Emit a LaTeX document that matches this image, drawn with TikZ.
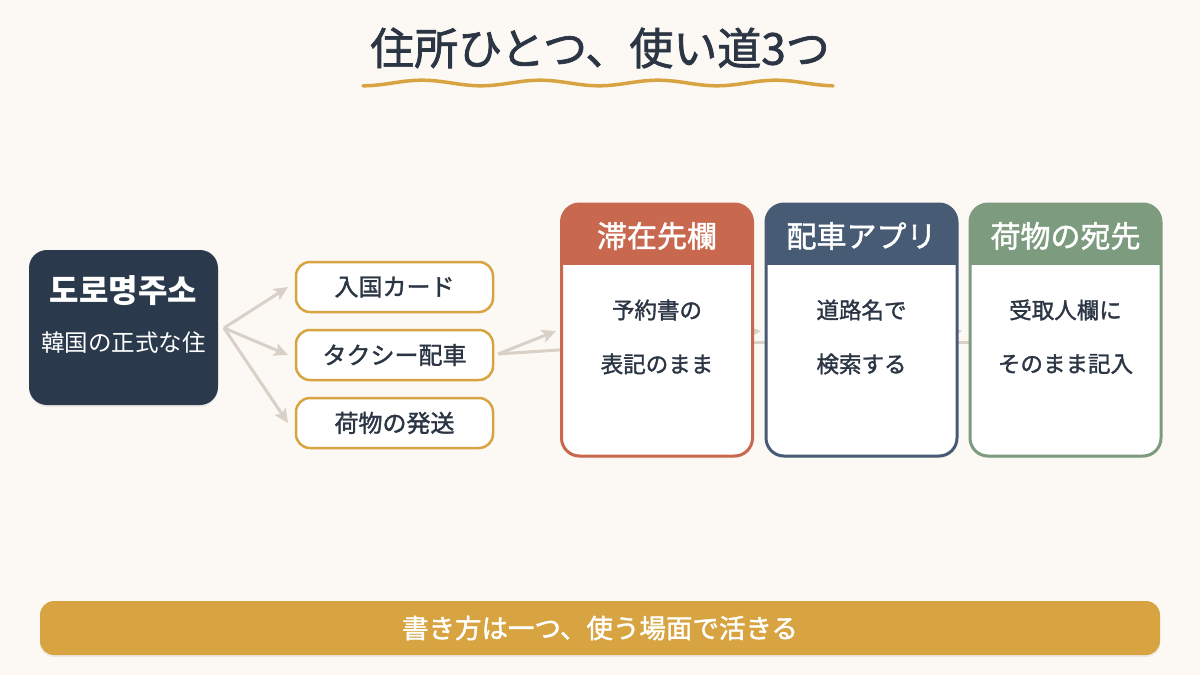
\documentclass[tikz,border=0pt]{standalone}
\usepackage{fontspec}
\setmainfont{Noto Sans CJK JP}
\newfontfamily\jpmed{Noto Sans CJK JP}[FakeBold=1.5]
\usetikzlibrary{arrows.meta,shadows,calc}
\definecolor{bg}{HTML}{FCF8F3}
\definecolor{navy}{HTML}{2A3A4C}
\definecolor{terra}{HTML}{C8694F}
\definecolor{slate}{HTML}{475C74}
\definecolor{sage}{HTML}{7D9B7F}
\definecolor{gold}{HTML}{D8A441}
\definecolor{ink}{HTML}{2B3544}
\definecolor{arrowc}{HTML}{D9D1C7}
\tikzset{
  softshadow/.style={drop shadow={opacity=0.12,shadow xshift=0pt,shadow yshift=-2pt}},
  srcbox/.style={fill=navy, rounded corners=18pt, minimum width=189pt, minimum height=155pt, inner sep=0pt, outer sep=0pt, softshadow},
  usebox/.style={draw=gold, line width=2.5pt, fill=white, rounded corners=14pt, minimum width=197pt, minimum height=50pt, inner sep=0pt, outer sep=0pt, text=ink, font=\jpmed\fontsize{24}{28}\selectfont},
  cardbox/.style={fill=white, rounded corners=18pt, minimum width=191pt, minimum height=252pt, inner sep=0pt, outer sep=0pt, softshadow},
  headtext/.style={text=white, font=\jpmed\fontsize{30}{34}\selectfont},
  bodytext/.style={text=ink, font=\jpmed\fontsize{22.5}{26}\selectfont},
  arr/.style={draw=arrowc, line width=3pt, -{Stealth[length=14pt,width=13pt,inset=3pt]}},
  arrline/.style={draw=arrowc, line width=3pt},
}
\newcommand\cardhead[2]{%
  \begin{scope}
    \clip[rounded corners=18pt] (#1.north west) rectangle (#1.south east);
    \fill[#2] (#1.north west) rectangle ($(#1.north east)+(0,61)$);
  \end{scope}
  \draw[#2, line width=3pt, rounded corners=18pt] (#1.north west) rectangle (#1.south east);
}
\begin{document}
\begin{tikzpicture}[x=1pt,y=-1pt]
\fill[bg] (0,0) rectangle (1200,675);
\useasboundingbox (0,0) rectangle (1200,675);

% title
\node[text=ink, font=\jpmed\fontsize{44}{50}\selectfont] (title) at (600,48) {住所ひとつ、使い道3つ};
\draw[gold, line width=3.5pt, line cap=round] plot[domain=363:833, samples=120, smooth] (\x, {83+2.8*cos((\x-363)*3.0508)});

% source box
\node[srcbox] (src) at (123.5,327.5) {};
\node[text=white, font=\bfseries\fontsize{32}{36}\selectfont] (srct) at (123.5,291) {도로명주소};
\node[text=white, font=\fontsize{23.5}{27}\selectfont] (srcs) at (123.5,343) {韓国の正式な住};

% use boxes
\node[usebox] (u1) at (394.5,287) {入国カード};
\node[usebox] (u2) at (394.5,355) {タクシー配車};
\node[usebox] (u3) at (394.5,423) {荷物の発送};

\coordinate (fork) at ($(src.east)+(6,0.5)$);
\draw[arr] (fork) -- ($(u1.west)+(-8,0)$);
\draw[arr] (fork) -- ($(u2.west)+(-8,0)$);
\draw[arr] (fork) -- ($(u3.west)+(-8,0)$);

% card entry points
\coordinate (c1w) at (561,330);
\coordinate (c2w) at (766,330);
\coordinate (c3w) at (970,330);

% connectors partly hidden behind the cards
\draw[arr] ($(u2.east)+(5,-1)$) -- ($(c1w)+(-5,1)$);
\draw[arrline] ($(u2.east)+(5,-1)$) -- ($(c1w)+(12,19)$);
\draw[arr] ($(c2w)+(-150,12)$) -- ($(c2w)+(-5,1)$);
\draw[arrline] ($(c2w)+(-150,12)$) -- ($(c2w)+(12,12)$);
\draw[arr] ($(c3w)+(-150,12)$) -- ($(c3w)+(-8,1)$);
\draw[arrline] ($(c3w)+(-150,12)$) -- ($(c3w)+(12,12)$);

% cards
\node[cardbox] (c1) at (657,330) {};
\cardhead{c1}{terra}
\node[headtext] (h1) at (657,236) {滞在先欄};
\node[bodytext] (b1a) at (657,310) {予約書の};
\node[bodytext] (b1b) at (657,364) {表記のまま};

\node[cardbox] (c2) at (861.5,330) {};
\cardhead{c2}{slate}
\node[headtext] (h2) at (861.5,236) {配車アプリ};
\node[bodytext] (b2a) at (861.5,310) {道路名で};
\node[bodytext] (b2b) at (861.5,364) {検索する};

\node[cardbox] (c3) at (1065.5,330) {};
\cardhead{c3}{sage}
\node[headtext] (h3) at (1065.5,236) {荷物の宛先};
\node[bodytext] (b3a) at (1065.5,310) {受取人欄に};
\node[bodytext] (b3b) at (1065.5,364) {そのまま記入};

% bottom bar
\node[fill=gold, rounded corners=14pt, minimum width=1120pt, minimum height=54pt, inner sep=0pt, softshadow, text=white, font=\jpmed\fontsize{26.5}{30}\selectfont] (bar) at (600,628) {書き方は一つ、使う場面で活きる};
\end{tikzpicture}
\end{document}
